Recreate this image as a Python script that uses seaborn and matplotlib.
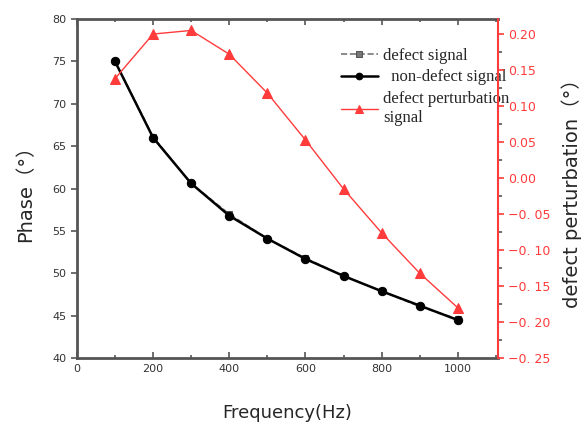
import numpy as np
import pandas as pd
import matplotlib
matplotlib.use("Agg")
import matplotlib.pyplot as plt
import seaborn as sns
from matplotlib.ticker import MultipleLocator, FuncFormatter

# data
freq = [100, 200, 300, 400, 500, 600, 700, 800, 900, 1000]
defect_phase = [75.0, 66.1, 60.6, 57.0, 54.1, 51.8, 49.7, 47.9, 46.1, 44.6]
nondefect_phase = [75.0, 66.0, 60.6, 56.8, 54.1, 51.7, 49.7, 47.9, 46.2, 44.5]
perturbation = [0.138, 0.200, 0.205, 0.172, 0.118, 0.053, -0.015, -0.076, -0.132, -0.180]

df = pd.DataFrame({"freq": freq, "defect": defect_phase,
                   "nondefect": nondefect_phase, "pert": perturbation})

sns.set_style("white")
plt.rcParams["font.family"] = ["DejaVu Sans", "Noto Sans CJK SC"]

fig = plt.figure(figsize = (5.87, 4.30), dpi = 100)
ax = fig.add_axes([0.131, 0.167, 0.717, 0.789])
ax2 = ax.twinx()

red = "#ff3b3b"
sns.lineplot(data = df, x = "freq", y = "defect", ax = ax, color = "#777777",
             marker = "s", markersize = 5, linestyle = "--", linewidth = 1.2,
             markeredgecolor = "#555555", label = "defect signal", legend = False)
sns.lineplot(data = df, x = "freq", y = "nondefect", ax = ax, color = "black",
             marker = "o", markersize = 6, linewidth = 1.8, markeredgecolor = "black",
             label = "  non-defect signal", legend = False)
sns.lineplot(data = df, x = "freq", y = "pert", ax = ax2, color = red,
             marker = "^", markersize = 7, linewidth = 1.0, markeredgecolor = red,
             label = "defect perturbation\nsignal", legend = False)

ax.set_xlim(0, 1105)
ax.set_ylim(40, 80)
ax2.set_ylim(-0.25, 0.221)

ax.xaxis.set_major_locator(MultipleLocator(200))
ax.xaxis.set_minor_locator(MultipleLocator(100))
ax.yaxis.set_major_locator(MultipleLocator(5))
ax2.yaxis.set_major_locator(MultipleLocator(0.05))
ax2.yaxis.set_minor_locator(MultipleLocator(0.025))
ax2.yaxis.set_major_formatter(FuncFormatter(lambda v, p: "%.2f" % v if v >= -0.001 else ("−0. %02d" % round(-v * 100))))

ax.tick_params(axis = "x", which = "both", direction = "in", top = True, bottom = True,
               length = 4, width = 1.2, color = "#555555", labelsize = 8, labelcolor = "#333333", pad = 4)
ax.tick_params(axis = "x", which = "minor", length = 2)
ax.tick_params(axis = "y", which = "major", direction = "out", left = True, length = 4,
               width = 1.2, color = "#555555", labelsize = 8, labelcolor = "#333333")
ax2.tick_params(axis = "y", which = "both", direction = "out", right = True, length = 4,
                width = 1.2, color = red, labelsize = 9, labelcolor = red)
ax2.tick_params(axis = "y", which = "minor", length = 3, color = "#555555")

for s in ["left", "bottom", "top"]:
    ax.spines[s].set_color("#555555")
    ax.spines[s].set_linewidth(2)
for s in ["left", "bottom", "top"]:
    ax2.spines[s].set_visible(False)
ax.spines["right"].set_visible(False)
ax2.spines["right"].set_color(red)
ax2.spines["right"].set_linewidth(1.5)

ax.set_xlabel("Frequency(Hz)", fontsize = 13, labelpad = 22)
ax.set_ylabel("Phase（°）", fontsize = 14, labelpad = 12)
ax2.set_ylabel("defect perturbation（°）", fontsize = 14, labelpad = 8)

h1, l1 = ax.get_legend_handles_labels()
h2, l2 = ax2.get_legend_handles_labels()
ax.legend(h1 + h2, l1 + l2, loc = "upper left", bbox_to_anchor = (0.6, 0.95),
          frameon = False, prop = {"family": "Liberation Serif", "size": 12},
          handlelength = 2.2, labelspacing = 0.35, handletextpad = 0.3, borderpad = 0.2,
          markerscale = 0.8)

fig.savefig("out.png", dpi = 100)
